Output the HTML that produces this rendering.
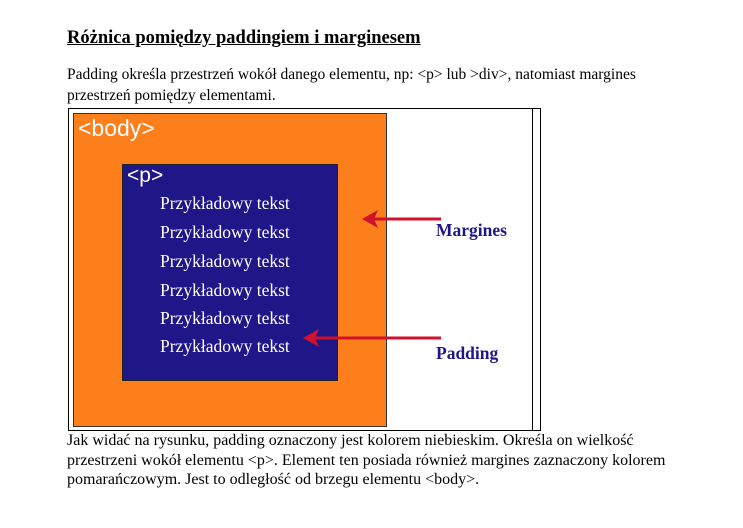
<!DOCTYPE html>
<html><head><meta charset="utf-8"><style>
body{margin:0;width:743px;height:528px;background:#fff;position:relative;font-family:"Liberation Serif",serif;color:#000;overflow:hidden}
.a{position:absolute;white-space:nowrap}
.t{font-size:15.5px;line-height:20px}
.o{font-size:16px;line-height:20px}
.pt{position:absolute;left:37px;color:#fff;font-size:17.5px;font-family:"Liberation Serif",serif}
</style></head><body>
<div class="a" style="left:67px;top:28px;font-size:18.5px;font-weight:bold;text-decoration:underline">Różnica pomiędzy paddingiem i marginesem</div>
<div class="a t" style="left:67px;top:65px">Padding określa przestrzeń wokół danego elementu, np: &lt;p&gt; lub &gt;div&gt;, natomiast margines</div>
<div class="a t" style="left:67px;top:86px">przestrzeń pomiędzy elementami.</div>
<div class="a" style="left:68px;top:108px;width:473px;height:323px;border:1px solid #000;box-sizing:border-box"></div>
<div class="a" style="left:532px;top:108px;width:1px;height:323px;background:#000"></div>
<div class="a" style="left:73px;top:113px;width:314px;height:314px;background:#fc7f1c;border:1px solid #333;box-sizing:border-box">
<div class="a" style="left:4px;top:1px;color:#fff;font-family:'Liberation Sans',sans-serif;font-size:23px">&lt;body&gt;</div>
</div>
<div class="a" style="left:122px;top:164px;width:216px;height:217px;background:#1f1787;border:1px solid #222;box-sizing:border-box">
<div class="a" style="left:4px;top:-1px;color:#fff;font-family:'Liberation Sans',sans-serif;font-size:21px">&lt;p&gt;</div>
<div class="pt" style="top:28px">Przykładowy tekst</div>
<div class="pt" style="top:57px">Przykładowy tekst</div>
<div class="pt" style="top:86px">Przykładowy tekst</div>
<div class="pt" style="top:115px">Przykładowy tekst</div>
<div class="pt" style="top:143px">Przykładowy tekst</div>
<div class="pt" style="top:171px">Przykładowy tekst</div>
</div>
<svg class="a" style="left:0;top:0" width="743" height="528">
<g><line x1="441" y1="219" x2="372" y2="219" stroke="#d0112b" stroke-width="3"/><polygon points="362,219 378,210 374,219 378,228" fill="#d0112b"/></g>
<g><line x1="441" y1="338" x2="313" y2="338" stroke="#d0112b" stroke-width="3"/><polygon points="303,338 319,329 315,338 319,347" fill="#d0112b"/></g>
</svg>
<div class="a" style="left:436px;top:220px;color:#1f1787;font-weight:bold;font-size:17.5px">Margines</div>
<div class="a" style="left:436px;top:343px;color:#1f1787;font-weight:bold;font-size:17.5px">Padding</div>
<div class="a o" style="left:67px;top:431px">Jak widać na rysunku, padding oznaczony jest kolorem niebieskim. Określa on wielkość</div>
<div class="a o" style="left:67px;top:451px">przestrzeni wokół elementu &lt;p&gt;. Element ten posiada również margines zaznaczony kolorem</div>
<div class="a o" style="left:67px;top:470px">pomarańczowym. Jest to odległość od brzegu elementu &lt;body&gt;.</div>
</body></html>
